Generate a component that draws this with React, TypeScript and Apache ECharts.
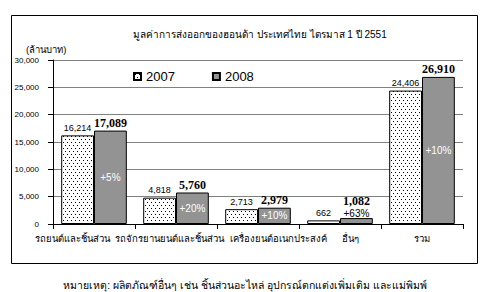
import React, { useEffect, useRef } from "react";
import * as echarts from "echarts";

const categories = [
  "รถยนต์และชิ้นส่วน",
  "รถจักรยานยนต์และชิ้นส่วน",
  "เครื่องยนต์อเนกประสงค์",
  "อื่นๆ",
  "รวม",
];
const values2007 = [16214, 4818, 2713, 662, 24406];
const values2008 = [17089, 5760, 2979, 1082, 26910];
const growth = ["+5%", "+20%", "+10%", "+63%", "+10%"];
const yMin = 0;
const yMax = 30000;
const yStep = 5000;

const titleText = "มูลค่าการส่งออกของฮอนด้า ประเทศไทย ไตรมาส 1 ปี 2551";
const unitText = "(ล้านบาท)";
const footerText = "หมายเหตุ: ผลิตภัณฑ์อื่นๆ เช่น ชิ้นส่วนอะไหล่ อุปกรณ์ตกแต่งเพิ่มเติม และแม่พิมพ์";

const SANS = "Arial, 'Liberation Sans', sans-serif";
const SERIF = "'Times New Roman', 'Liberation Serif', serif";

// horizontal nudges of category labels (padding left / right), as in the source layout
const labelPads: number[][] = [
  [0, 43, 0, 0],
  [0, 13, 0, 0],
  [0, 0, 0, 41],
  [0, 0, 0, 20],
  [0, 0, 0, 0],
];

function makeDots(): HTMLCanvasElement {
  const c = document.createElement("canvas");
  c.width = 4;
  c.height = 6;
  const ctx = c.getContext("2d")!;
  ctx.fillStyle = "#ffffff";
  ctx.fillRect(0, 0, 4, 6);
  ctx.fillStyle = "#000000";
  ctx.fillRect(1, 1, 1, 1);
  ctx.fillRect(3, 4, 1, 1);
  return c;
}

const fmt = (v: number) => v.toLocaleString("en-US");

export default function App() {
  const ref = useRef<HTMLDivElement>(null);
  useEffect(() => {
    if (!ref.current) return;
    const chart = echarts.init(ref.current, undefined, { renderer: "svg" });
    const dots = makeDots();
    const grey = "#939393";
    const rich: Record<string, any> = {};
    labelPads.forEach((p, i) => {
      rich["c" + i] = { fontSize: 9.5, color: "#000", fontFamily: SANS, padding: p };
    });
    chart.setOption({
      animation: false,
      backgroundColor: "#ffffff",
      title: [
        {
          text: titleText,
          left: 128,
          top: 24,
          textStyle: { fontSize: 10, fontWeight: "normal", color: "#000", fontFamily: SANS },
        },
        {
          text: unitText,
          left: 21,
          top: 39,
          textStyle: { fontSize: 9.5, fontWeight: "normal", color: "#000", fontFamily: SANS },
        },
        {
          text: footerText,
          left: "center",
          top: 274,
          textStyle: { fontSize: 10.5, fontWeight: "normal", color: "#000", fontFamily: SANS },
        },
      ],
      graphic: [
        {
          type: "rect",
          shape: { x: 11.5, y: 15.5, width: 466, height: 248 },
          style: { fill: "none", stroke: "#000", lineWidth: 1 },
          silent: true,
        },
      ],
      legend: {
        data: ["2007", "2008"],
        left: 133,
        top: 70,
        padding: 0,
        itemWidth: 7,
        itemHeight: 7,
        itemGap: 37,
        icon: "rect",
        textStyle: { fontSize: 13, color: "#000", fontFamily: SANS },
      },
      grid: { left: 53, right: 27, top: 60, bottom: 68, containLabel: false },
      xAxis: [
        {
          type: "category",
          data: categories,
          axisLine: { lineStyle: { color: "#000", width: 1 } },
          axisTick: { show: true, length: 5, lineStyle: { color: "#000" } },
          axisLabel: {
            color: "#000",
            fontSize: 9.5,
            fontFamily: SANS,
            margin: 9,
            interval: 0,
            rich,
            formatter: (v: string, i: number) => `{c${i}|${v}}`,
          },
        },
        { type: "category", data: categories, show: false },
      ],
      yAxis: {
        type: "value",
        min: yMin,
        max: yMax,
        interval: yStep,
        axisLine: { show: true, lineStyle: { color: "#000", width: 1 } },
        axisTick: { show: true, length: 5, lineStyle: { color: "#000" } },
        splitLine: { lineStyle: { color: "#808080", width: 1 } },
        axisLabel: {
          color: "#000",
          fontSize: 8,
          fontFamily: SANS,
          margin: 14,
          formatter: (v: number) => fmt(v),
        },
      },
      series: [
        {
          name: "2007",
          type: "bar",
          xAxisIndex: 0,
          data: values2007,
          barGap: "0%",
          barCategoryGap: "20%",
          itemStyle: {
            color: { image: dots, repeat: "repeat" },
            borderColor: "#000",
            borderWidth: 1,
          },
          label: {
            show: true,
            position: "top",
            distance: 3,
            fontSize: 9,
            color: "#000",
            fontFamily: SANS,
            formatter: (p: any) => fmt(p.value),
          },
        },
        {
          name: "2008",
          type: "bar",
          xAxisIndex: 0,
          barGap: "0%",
          barCategoryGap: "20%",
          data: values2008.map((v, i) =>
            i === 3
              ? { value: v, label: { position: "top", color: "#000", distance: 0 } }
              : { value: v }
          ),
          itemStyle: { color: grey, borderColor: "#000", borderWidth: 1 },
          label: {
            show: true,
            position: "inside",
            fontSize: 10,
            color: "#fff",
            fontFamily: SANS,
            formatter: (p: any) => growth[p.dataIndex],
          },
        },
        {
          name: "ghost2007",
          type: "bar",
          xAxisIndex: 1,
          data: values2007,
          barGap: "0%",
          barCategoryGap: "20%",
          silent: true,
          itemStyle: { color: "rgba(0,0,0,0)" },
          label: { show: false },
        },
        {
          name: "value2008",
          type: "bar",
          xAxisIndex: 1,
          barGap: "0%",
          barCategoryGap: "20%",
          silent: true,
          data: values2008.map((v, i) =>
            i === 3 ? { value: v, label: { distance: 11 } } : { value: v }
          ),
          itemStyle: { color: "rgba(0,0,0,0)" },
          label: {
            show: true,
            position: "top",
            distance: 2,
            fontSize: 12,
            fontWeight: "bold",
            color: "#000",
            fontFamily: SERIF,
            formatter: (p: any) => fmt(p.value),
          },
        },
      ],
    });
    return () => chart.dispose();
  }, []);
  return (
    <div
      ref={ref}
      style={{ position: "fixed", left: 0, top: 0, width: 490, height: 292, background: "#fff" }}
    />
  );
}
